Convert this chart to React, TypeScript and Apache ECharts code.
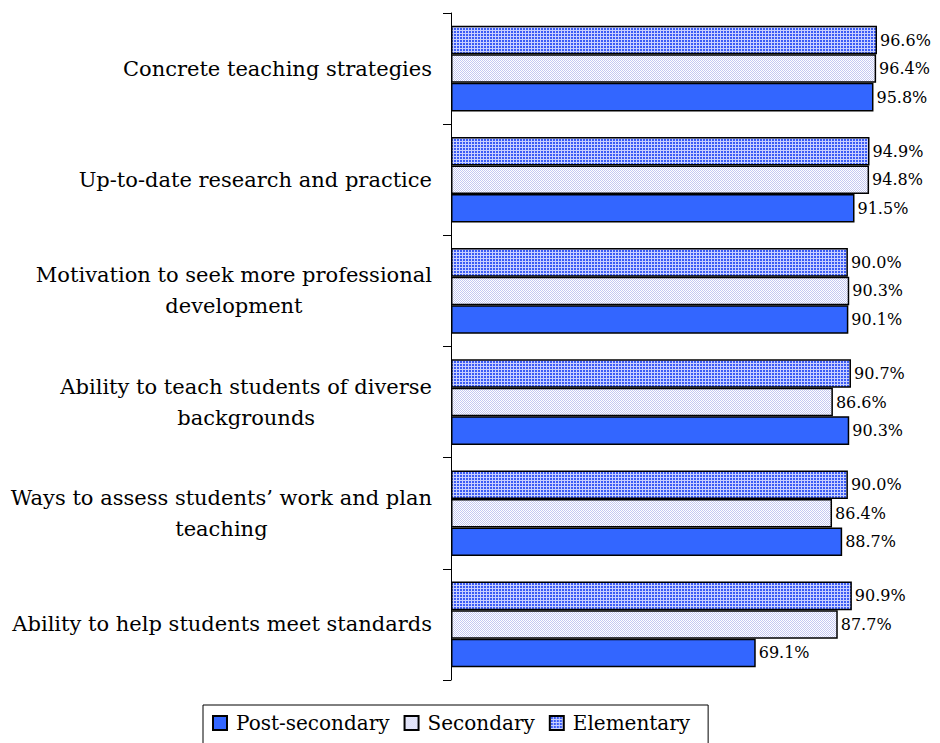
import React, { useEffect, useRef } from "react";
import * as echarts from "echarts";

const categories = [
  "Ability to help students meet standards",
  "Ways to assess students’ work and plan\nteaching",
  "Ability to teach students of diverse\nbackgrounds",
  "Motivation to seek more professional\ndevelopment",
  "Up-to-date research and practice",
  "Concrete teaching strategies",
];
const elementary = [90.9, 90.0, 90.7, 90.0, 94.9, 96.6];
const secondary = [87.7, 86.4, 86.6, 90.3, 94.8, 96.4];
const postSecondary = [69.1, 88.7, 90.3, 90.1, 91.5, 95.8];
const legendOrder = ["Post-secondary", "Secondary", "Elementary"];

const FONT = "DejaVu Serif";

function makeTile(size: number, draw: (x: number, y: number) => string) {
  const c = document.createElement("canvas");
  c.width = size;
  c.height = size;
  const ctx = c.getContext("2d")!;
  for (let y = 0; y < size; y++) {
    for (let x = 0; x < size; x++) {
      ctx.fillStyle = draw(x, y);
      ctx.fillRect(x, y, 1, 1);
    }
  }
  return c;
}

export default function App() {
  const ref = useRef<HTMLDivElement>(null);
  useEffect(() => {
    const chart = echarts.init(ref.current!, null, { renderer: "svg" });
    const gridTile = makeTile(3, (x, y) => (x === 0 || y === 0 ? "#c8d0ff" : "#3b5cf5"));
    const dotTile = makeTile(2, (x, y) => ((x + y) % 2 === 0 ? "#c4c8f2" : "#ffffff"));
    const elemFill: any = { image: gridTile, repeat: "repeat", imageWidth: 3, imageHeight: 3 };
    const secFill: any = { image: dotTile, repeat: "repeat", imageWidth: 2, imageHeight: 2 };
    const label = {
      show: true,
      position: "right",
      distance: 3,
      fontFamily: FONT,
      fontSize: 16,
      color: "#000",
      formatter: (p: any) => Number(p.value).toFixed(1) + "%",
    };
    const border = { borderColor: "#000", borderWidth: 1.5 };
    chart.setOption({
      animation: false,
      backgroundColor: "#fff",
      grid: { left: 451, top: 13, right: 48, bottom: 63, containLabel: false },
      xAxis: { type: "value", min: 0, max: 100, show: false },
      yAxis: {
        type: "category",
        data: categories,
        axisLine: { show: true, lineStyle: { color: "#000", width: 1 } },
        axisTick: { show: true, length: 8, lineStyle: { color: "#000" } },
        axisLabel: {
          margin: 19,
          color: "#000",
          fontFamily: FONT,
          fontSize: 21,
          lineHeight: 31,
          formatter: (v: string) =>
            v
              .split("\n")
              .map((l) => "{c|" + l + "}")
              .join("\n"),
          rich: { c: { align: "center", fontFamily: FONT, fontSize: 21, lineHeight: 31, color: "#000" } },
        },
        splitLine: { show: false },
      },
      legend: {
        data: legendOrder,
        left: 203,
        top: 705,
        orient: "horizontal",
        itemWidth: 14,
        itemHeight: 14,
        itemGap: 14,
        icon: "rect",
        borderColor: "#000",
        borderWidth: 1,
        padding: [8, 18, 14, 9],
        formatter: "{t|{name}}",
        textStyle: {
          fontFamily: FONT,
          fontSize: 20,
          color: "#000",
          rich: { t: { fontFamily: FONT, fontSize: 20, color: "#000", padding: [0, 0, 0, 4] } },
        },
      },
      series: [
        {
          name: "Elementary",
          type: "bar",
          data: elementary,
          barGap: "0%",
          barCategoryGap: "23%",
          itemStyle: { color: elemFill, ...border },
          label,
        },
        {
          name: "Secondary",
          type: "bar",
          data: secondary,
          barGap: "0%",
          barCategoryGap: "23%",
          itemStyle: { color: secFill, ...border },
          label,
        },
        {
          name: "Post-secondary",
          type: "bar",
          data: postSecondary,
          barGap: "0%",
          barCategoryGap: "23%",
          itemStyle: { color: "#3366ff", ...border },
          label,
        },
      ],
    });
    return () => chart.dispose();
  }, []);
  return (
    <div
      ref={ref}
      style={{ position: "fixed", left: 0, top: 0, width: 940, height: 743 }}
    />
  );
}
